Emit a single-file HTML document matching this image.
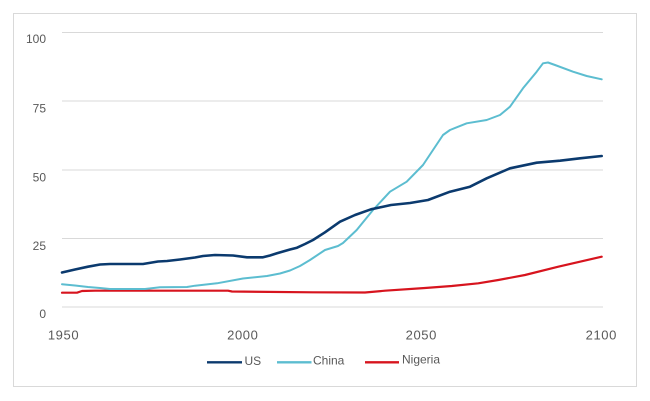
<!DOCTYPE html>
<html><head><meta charset="utf-8"><style>
html,body{margin:0;padding:0;background:#fff;}
svg{display:block;}
text{font-family:"Liberation Sans",sans-serif;fill:#595959;}
</style></head><body>
<svg width="650" height="401" viewBox="0 0 650 401" xmlns="http://www.w3.org/2000/svg">
<rect x="0" y="0" width="650" height="401" fill="#fff"/>
<rect x="13.5" y="13.5" width="623" height="373" fill="none" stroke="#d9d9d9" stroke-width="1"/>
<g stroke="#d9d9d9" stroke-width="1">
<line x1="62" y1="32.5" x2="603" y2="32.5"/>
<line x1="62" y1="101" x2="603" y2="101"/>
<line x1="62" y1="170" x2="603" y2="170"/>
<line x1="62" y1="238.5" x2="603" y2="238.5"/>
<line x1="62" y1="307" x2="603" y2="307"/>
</g>
<g font-size="12" text-anchor="end">
<text x="46" y="43">100</text>
<text x="46" y="112.5">75</text>
<text x="46" y="181.5">50</text>
<text x="46" y="250">25</text>
<text x="46" y="318">0</text>
</g>
<g font-size="13" text-anchor="middle" letter-spacing="0.6">
<text x="63.5" y="339.3">1950</text>
<text x="242.8" y="339.3">2000</text>
<text x="421.3" y="339.3">2050</text>
<text x="601.3" y="339.3">2100</text>
</g>
<g fill="none" stroke-linejoin="round" stroke-linecap="round">
<polyline stroke="#d7141e" stroke-width="2.2" points="62,292.7 77,292.7 82,291 95,290.7 228,290.7 232,291.5 313,292.3 365,292.5 385,290.7 425,288 451.7,286 478.3,283.3 498.3,280 525,275 558.3,266.7 601.7,256.7"/>
<polyline stroke="#5cbdd0" stroke-width="2" points="62,284.2 75,285.5 88,287 100,288 110,289 145,289 160,287.3 187,287 195,285.7 217,283.3 243,278.5 267,276 280,273.5 290,270.5 300,266 310,260 325,250 338,246 343,243 356.7,230 373,210 390,191.7 406.7,181.7 423,165 443,135 450,130 466.7,123.3 486.7,120 500,115 510,106.7 523,88.3 536.7,71.7 543,63.3 548,62.5 555,65 573,71.7 586.7,76 601.7,79.3"/>
<polyline stroke="#0b3a6e" stroke-width="2.6" points="62,272.5 75,269.5 88,266.7 100,264.5 110,264 143,264 158,261.5 167,261 180,259.5 195,257.5 203,256 215,255 233,255.5 247,257.3 263,257.3 270,255.5 277,253.3 290,249.5 297,247.7 305,244 313,240 325,232.3 340,221.7 355,215 371,209.3 391,205 410,203 428,200 450,191.7 470,186.7 486.7,178.3 510,168.3 536.7,162.7 560,160.7 580,158.3 601.7,156"/>
</g>
<g stroke-width="2.4">
<line x1="207" y1="362.3" x2="242" y2="362.3" stroke="#0b3a6e"/>
<line x1="277" y1="362.3" x2="311.5" y2="362.3" stroke="#5cbdd0"/>
<line x1="365" y1="362.3" x2="399" y2="362.3" stroke="#d7141e"/>
</g>
<g font-size="12">
<text x="244.5" y="365">US</text>
<text x="313" y="364.5">China</text>
<text x="402" y="363.3">Nigeria</text>
</g>
</svg>
</body></html>
